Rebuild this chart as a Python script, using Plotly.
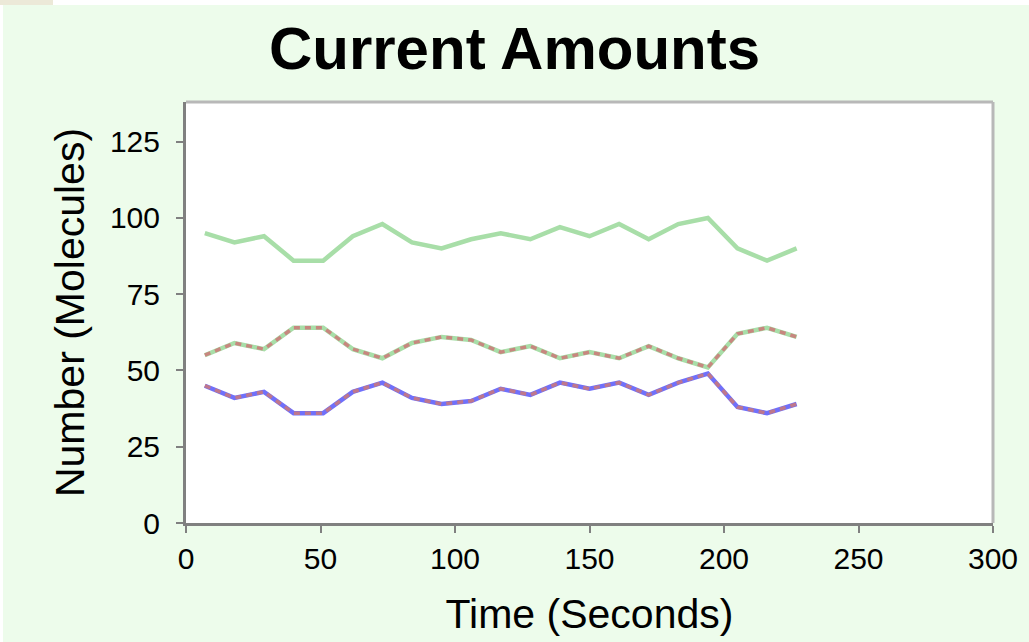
import plotly.graph_objects as go

time_s = [7, 18, 29, 40, 51, 62, 73, 84, 95, 106, 117, 128, 139, 150, 161, 172, 183, 194, 205, 216, 227]
top_green = [95, 92, 94, 86, 86, 94, 98, 92, 90, 93, 95, 93, 97, 94, 98, 93, 98, 100, 90, 86, 90]
mid_green = [55, 59, 57, 64, 64, 57, 54, 59, 61, 60, 56, 58, 54, 56, 54, 58, 54, 51, 62, 64, 61]
low_blue = [45, 41, 43, 36, 36, 43, 46, 41, 39, 40, 44, 42, 46, 44, 46, 42, 46, 49, 38, 36, 39]
x_ticks = [0, 50, 100, 150, 200, 250, 300]
y_ticks = [0, 25, 50, 75, 100, 125]

GREEN = "rgb(168,222,168)"
BLUE = "rgb(112,112,250)"
RED = "rgba(205,120,120,0.85)"

fig = go.Figure()
fig.add_trace(go.Scatter(x=time_s, y=top_green, mode="lines", line=dict(color=GREEN, width=4.5)))
fig.add_trace(go.Scatter(x=time_s, y=mid_green, mode="lines", line=dict(color=GREEN, width=4.5)))
fig.add_trace(go.Scatter(x=time_s, y=low_blue, mode="lines", line=dict(color=BLUE, width=4.5)))
fig.add_trace(go.Scatter(x=time_s, y=mid_green, mode="lines", line=dict(color=RED, width=3.5, dash="6px,5px")))
fig.add_trace(go.Scatter(x=time_s, y=low_blue, mode="lines", line=dict(color=RED, width=3.5, dash="6px,5px")))

L, R, T, B = 186, 36, 102, 119
W, H = 1029, 642
pw, ph = W - L - R, H - T - B

def px(xp):
    return (xp - L) / pw

def py(yp):
    return (H - B - yp) / ph

shapes = [
    dict(type="rect", xref="paper", yref="paper", x0=px(0), x1=px(W), y0=py(5), y1=py(0),
         fillcolor="white", line=dict(width=0), layer="below"),
    dict(type="rect", xref="paper", yref="paper", x0=px(0), x1=px(3), y0=py(H), y1=py(0),
         fillcolor="white", line=dict(width=0), layer="below"),
    dict(type="rect", xref="paper", yref="paper", x0=px(0), x1=px(53), y0=py(5), y1=py(0),
         fillcolor="#ece9d8", line=dict(width=0), layer="below"),
    dict(type="line", xref="paper", yref="paper", x0=0, x1=1, y0=1, y1=1,
         line=dict(color="#b8b8b8", width=3)),
    dict(type="line", xref="paper", yref="paper", x0=1, x1=1, y0=0, y1=1,
         line=dict(color="#b8b8b8", width=3)),
]

fig.update_layout(
    width=W, height=H,
    margin=dict(l=L, r=R, t=T, b=B, autoexpand=False),
    paper_bgcolor="#edfceb",
    plot_bgcolor="white",
    showlegend=False,
    shapes=shapes,
    title=dict(text="<b>Current Amounts</b>", x=0.5, xanchor="center", y=1 - 48 / H, yanchor="middle",
               font=dict(family="Liberation Sans, Arial", size=60, color="black")),
    font=dict(family="Liberation Sans, Arial", color="black"),
    xaxis=dict(range=[0, 300], tickvals=x_ticks, ticktext=[str(v) for v in x_ticks],
               showgrid=False, zeroline=False, showline=True, linecolor="#808080", linewidth=3,
               ticks="outside", ticklen=7, tickwidth=2, tickcolor="#808080",
               tickfont=dict(size=30),
               title=dict(text="Time (Seconds)", font=dict(size=41), standoff=26)),
    yaxis=dict(range=[0, 138], tickvals=y_ticks, ticktext=[str(v) for v in y_ticks],
               showgrid=False, zeroline=False, showline=True, linecolor="#808080", linewidth=3,
               ticks="outside", ticklen=7, tickwidth=2, tickcolor="#808080", ticklabelstandoff=10,
               tickfont=dict(size=30),
               title=dict(text="Number (Molecules)", font=dict(size=41), standoff=13)),
)

fig.write_html("out.html", config={"displayModeBar": False},
               post_script="document.body.style.margin='0';document.body.style.padding='0';")
